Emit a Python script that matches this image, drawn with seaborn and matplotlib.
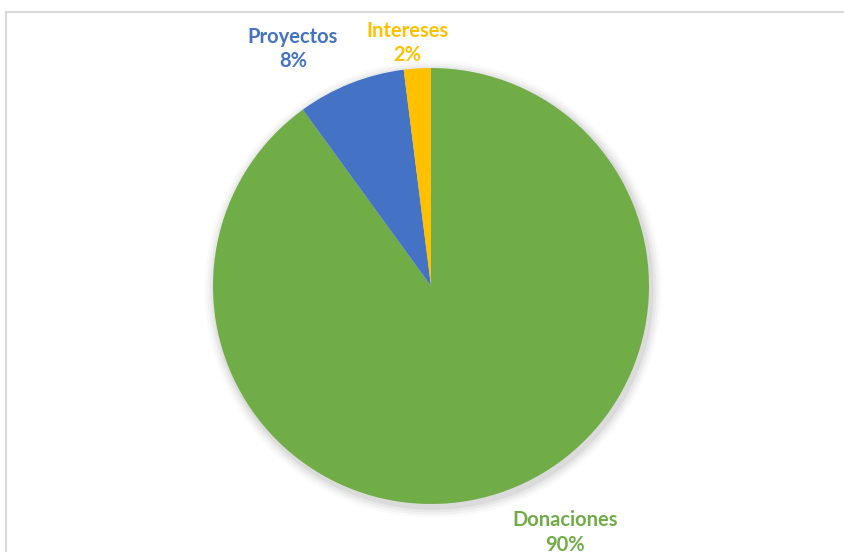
import matplotlib
matplotlib.use("Agg")
import matplotlib.pyplot as plt
import seaborn as sns
from matplotlib.lines import Line2D
from matplotlib.patches import Circle

categories = ["Donaciones", "Proyectos", "Intereses"]
values = [90, 8, 2]
colors = ["#70AD47", "#4472C4", "#FFC000"]
label_pos = {"Donaciones": (0.615, -1.13), "Proyectos": (-0.633, 1.087), "Intereses": (-0.11, 1.115)}

sns.set_theme(style="white")
plt.rcParams['font.family'] = ['Lato', 'DejaVu Sans']

fig = plt.figure(figsize=(8.44, 5.52), dpi=100)
fig.patch.set_facecolor("white")

# frame lines
fig.add_artist(Line2D([6/844, 6/844], [0, 1 - 12/552], transform=fig.transFigure, color="#d9d9d9", lw=1.5))
fig.add_artist(Line2D([6/844, 1], [1 - 12/552, 1 - 12/552], transform=fig.transFigure, color="#d9d9d9", lw=1.5))

ax = fig.add_axes([213/844, 48/552, 436/844, 436/552])
# soft shadow
for i, a in enumerate([0.05, 0.04, 0.03, 0.02]):
    ax.add_patch(Circle((0.01, -0.015), 1.0 + 0.012*(i+1), color="black", alpha=a, lw=0,
                        zorder=0, clip_on=False))
wedges, _ = ax.pie(values, colors=colors, startangle=90, counterclock=False, radius=1.0,
                   wedgeprops=dict(linewidth=0))
for w in wedges:
    w.set_zorder(2)
    w.set_clip_on(False)
ax.set_xlim(-1, 1)
ax.set_ylim(-1, 1)
ax.set_aspect("equal")
ax.axis("off")

for cat, val, col in zip(categories, values, colors):
    x, y = label_pos[cat]
    ax.text(x, y, f"{cat}\n{val}%", color=col, fontsize=14.5, fontweight="bold",
            ha="center", va="center", linespacing=1.3, clip_on=False)

fig.savefig("out.png", dpi=100)
